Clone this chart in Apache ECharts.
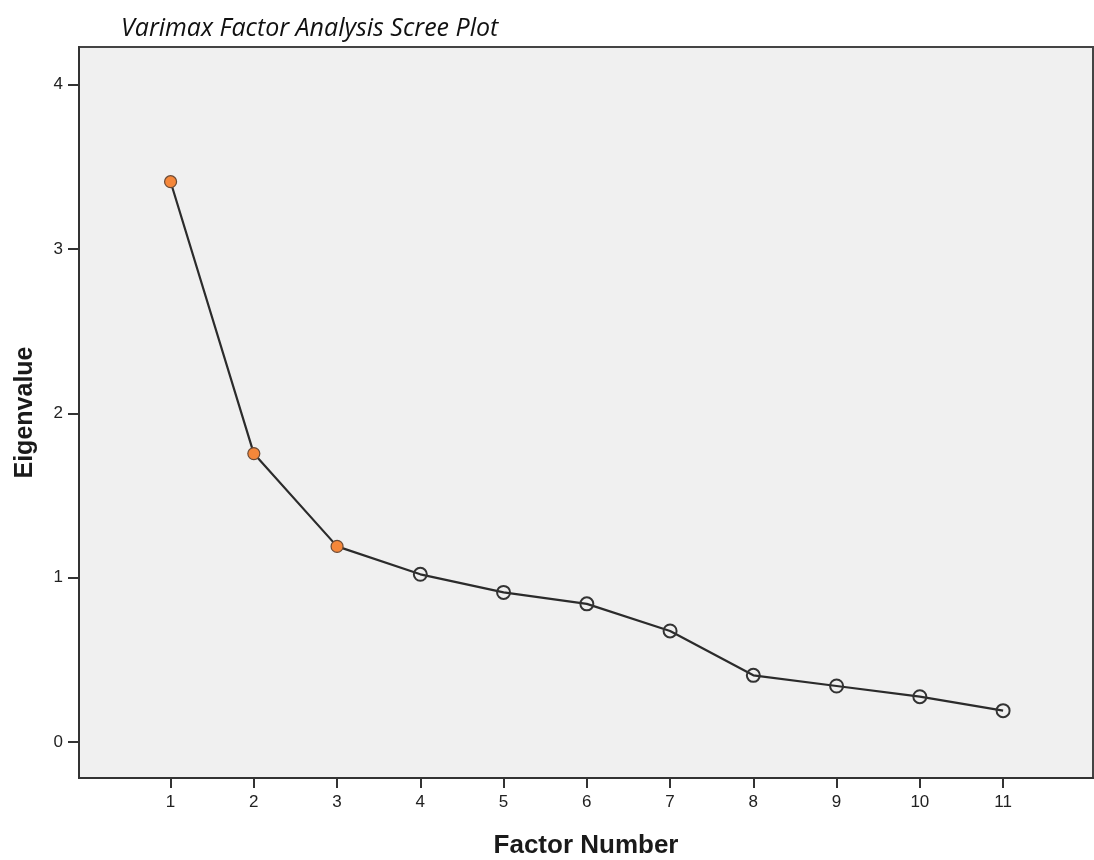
<!DOCTYPE html>
<html>
<head>
<meta charset="utf-8">
<script src="https://cdn.jsdelivr.net/npm/echarts@6/dist/echarts.min.js"></script>
<style>html,body{margin:0;padding:0;background:#fff}#c{width:1094px;height:860px}</style>
</head>
<body>
<div id="c"></div>
<script>
const factors = [1,2,3,4,5,6,7,8,9,10,11];
const eigenvalues = [3.41,1.755,1.19,1.02,0.91,0.84,0.675,0.405,0.34,0.275,0.19];
const retained = 3;
const xTicks = [1,2,3,4,5,6,7,8,9,10,11];
const yTicks = [0,1,2,3,4];

const pts = factors.map((f,i)=>{
  const keep = i < retained;
  return {
    value:[f, eigenvalues[i]],
    symbolSize: keep ? 12 : 13,
    itemStyle: keep
      ? {color:'#f5873a', borderColor:'#6b4a35', borderWidth:1.2}
      : {color:'rgba(0,0,0,0)', borderColor:'#333', borderWidth:2}
  };
});

const chart = echarts.init(document.getElementById('c'), null, {renderer:'canvas'});
chart.setOption({
  animation:false,
  title:{text:'Varimax Factor Analysis Scree Plot', left:116, top:11,
    textStyle:{fontFamily:'Open Sans', fontStyle:'italic', fontWeight:'normal', fontSize:25, color:'#111'}},
  grid:{left:79, top:47, right:1, bottom:82, outerBoundsMode:'none', containLabel:false,
    show:true, backgroundColor:'#f0f0f0', borderColor:'#444', borderWidth:2},
  xAxis:{type:'value', min:-0.1, max:12.08,
    name:'Factor Number', nameLocation:'middle', nameGap:55,
    nameTextStyle:{fontFamily:'Liberation Sans', fontWeight:'bold', fontSize:26, color:'#1a1a1a'},
    axisLine:{show:true, onZero:false, lineStyle:{color:'#333', width:2}},
    axisTick:{show:true, customValues:xTicks, length:10, lineStyle:{color:'#333', width:2}},
    axisLabel:{customValues:xTicks, fontFamily:'Liberation Sans', fontSize:17, color:'#222', margin:16},
    splitLine:{show:false}},
  yAxis:{type:'value', min:-0.22, max:4.23,
    name:'Eigenvalue', nameLocation:'middle', nameGap:41, nameRotate:90,
    nameTextStyle:{fontFamily:'Liberation Sans', fontWeight:'bold', fontSize:25, color:'#1a1a1a'},
    axisLine:{show:true, onZero:false, lineStyle:{color:'#333', width:2}},
    axisTick:{show:true, customValues:yTicks, length:11, lineStyle:{color:'#333', width:2}},
    axisLabel:{customValues:yTicks, fontFamily:'Liberation Sans', fontSize:17, color:'#222', margin:16},
    splitLine:{show:false}},
  series:[{type:'line', data:pts, symbol:'circle',
    lineStyle:{color:'#2b2b2b', width:2.2}, z:3}]
});
</script>
</body>
</html>
